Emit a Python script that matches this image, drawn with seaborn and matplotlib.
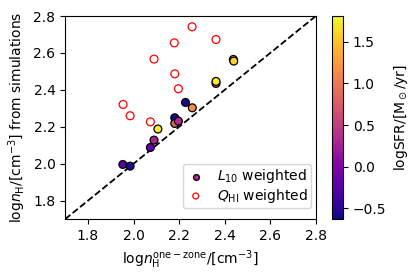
import numpy as np
import pandas as pd
import matplotlib
matplotlib.use("Agg")
import matplotlib.pyplot as plt
import seaborn as sns

# L10 weighted (filled, coloured by log SFR)
l10_x = [1.953, 1.985, 2.074, 2.090, 2.107, 2.181, 2.181, 2.197, 2.228, 2.258, 2.362, 2.362, 2.438, 2.440]
l10_y = [1.996, 1.987, 2.088, 2.128, 2.188, 2.249, 2.218, 2.231, 2.332, 2.303, 2.435, 2.446, 2.565, 2.556]
l10_sfr = [-0.25, -0.55, -0.15, 0.3, 1.75, -0.55, 0.8, 0.35, -0.55, 1.15, 0.75, 1.75, 1.3, 1.6]

# Q_HI weighted (open red)
qhi_x = [1.954, 1.985, 2.074, 2.090, 2.179, 2.181, 2.197, 2.257, 2.362]
qhi_y = [2.321, 2.260, 2.227, 2.567, 2.655, 2.487, 2.406, 2.742, 2.673]

vmin, vmax = -0.63, 1.81

df_l10 = pd.DataFrame({"x": l10_x, "y": l10_y, "sfr": l10_sfr})
df_qhi = pd.DataFrame({"x": qhi_x, "y": qhi_y})

fig = plt.figure(figsize=(4.15, 2.77), dpi=100)
ax = fig.add_axes([0.157, 0.209, 0.604, 0.733])
cax = fig.add_axes([0.800, 0.209, 0.027, 0.733])

ax.plot([1.7, 2.8], [1.7, 2.8], "k--", lw=1.3)

sns.scatterplot(data=df_l10, x="x", y="y", hue="sfr", palette="plasma",
                hue_norm=(vmin, vmax), s=32, edgecolor="black", linewidth=0.9,
                legend=False, ax=ax, zorder=3)
sns.scatterplot(data=df_qhi, x="x", y="y", s=32, facecolor="none",
                edgecolor="red", linewidth=0.9, legend=False, ax=ax, zorder=3)

ax.set_xlim(1.7, 2.8)
ax.set_ylim(1.7, 2.8)
ax.set_xticks([1.8, 2.0, 2.2, 2.4, 2.6, 2.8])
ax.set_yticks([1.8, 2.0, 2.2, 2.4, 2.6, 2.8])
ax.set_xlabel(r"${\rm log}n_{\rm H}^{\rm one-zone}/[{\rm cm}^{-3}]$")
ax.set_ylabel(r"${\rm log}n_{\rm H}/[{\rm cm}^{-3}]$ from simulations")

h1 = ax.scatter([], [], s=32, color=plt.cm.plasma(0.4), edgecolor="black", linewidth=0.9)
h2 = ax.scatter([], [], s=32, facecolor="none", edgecolor="red", linewidth=0.9)
ax.legend([h1, h2], [r"$L_{10}$ weighted", r"$Q_{\rm HI}$ weighted"],
          loc="lower right", bbox_to_anchor=(0.98, 0.054), borderaxespad=0,
          fontsize=10, handlelength=1.4, labelspacing=0.1, borderpad=0.25,
          markerscale=0.75)

sm = plt.cm.ScalarMappable(cmap="plasma", norm=plt.Normalize(vmin, vmax))
cb = fig.colorbar(sm, cax=cax)
cb.set_ticks([-0.5, 0.0, 0.5, 1.0, 1.5])
cb.set_label(r"${\rm logSFR}/[{\rm M_\odot/yr}]$")

fig.savefig("out.png", dpi=100)
